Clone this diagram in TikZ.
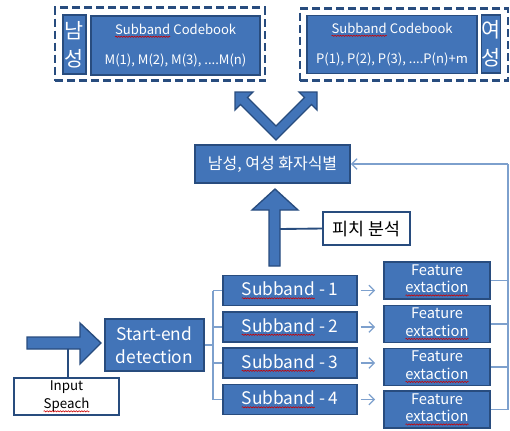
\documentclass[tikz,border=0pt]{standalone}
\usepackage{fontspec}
\setmainfont{Noto Sans CJK KR}
\usetikzlibrary{arrows.meta,decorations.pathmorphing}
\definecolor{bfill}{RGB}{66,116,184}
\definecolor{bdraw}{RGB}{40,76,126}
\definecolor{lline}{RGB}{125,160,205}
\newcommand\spl[1]{\tikz[baseline=(sw.base)]{\node[draw=none,fill=none,inner sep=0pt,outer sep=0pt,minimum size=0pt](sw){#1};\draw[draw=red!80!black,line width=0.45pt,solid,decorate,decoration={snake,amplitude=0.45pt,segment length=2pt}]([yshift=-2pt]sw.base west)--([yshift=-2pt]sw.base east);}}
\tikzset{
  bbox/.style={draw=bdraw,fill=bfill,line width=1.4pt,text=white,inner sep=0pt,align=center},
  wbox/.style={draw=bdraw,fill=white,line width=1.4pt,text=black,inner sep=0pt,align=center},
  dbox/.style={draw=bdraw,line width=2.2pt,dash pattern=on 6pt off 3pt,inner sep=0pt},
  bigarrow/.style={draw=bdraw,fill=bfill,line width=1pt,line join=miter},
  thin/.style={draw=lline,line width=0.9pt},
  thinarrow/.style={thin,-{Straight Barb[length=4pt,width=8pt,line width=0.9pt]}},
}
\begin{document}
\begin{tikzpicture}[x=0.75pt,y=-0.75pt]
\useasboundingbox (0,0) rectangle (510,430);
% top groups
\node[dbox,minimum width=210*0.75pt,minimum height=73*0.75pt] (dashL) at (160,44) {};
\node[bbox,minimum width=23*0.75pt,minimum height=59*0.75pt,font=\fontsize{15.5}{21}\selectfont] (manL) at (74.5,44.5) {남\\성};
\node[bbox,minimum width=169*0.75pt,minimum height=59*0.75pt,font=\fontsize{9.8}{23}\selectfont] (cbL) at (175.5,45.5) {\spl{Subband} Codebook\\M(1), M(2), M(3), ....M(n)};
\node[dbox,minimum width=208*0.75pt,minimum height=72*0.75pt] (dashR) at (404,44.5) {};
\node[bbox,minimum width=170*0.75pt,minimum height=58*0.75pt,font=\fontsize{9.8}{23}\selectfont] (cbR) at (392,44.5) {\spl{Subband} Codebook\\P(1), P(2), P(3), ....P(n)+m};
\node[bbox,minimum width=18*0.75pt,minimum height=58*0.75pt,font=\fontsize{15.5}{21}\selectfont] (womR) at (491,44) {여\\성};
% V double arrow
\draw[bigarrow] (235,92) -- (253,92) -- (247.5,97.5) -- (276,126) -- (304.5,97.5) -- (299,92) -- (317,92) -- (317,110) -- (311.5,104.5) -- (276,140) -- (240.5,104.5) -- (235,110) -- cycle;
% identification box
\node[bbox,minimum width=155*0.75pt,minimum height=38*0.75pt,font=\fontsize{12}{14}\selectfont] (id) at (272.5,164) {남성, 여성 화자식별};
% pitch
\node[wbox,minimum width=87*0.75pt,minimum height=33*0.75pt,font=\fontsize{13}{15}\selectfont] (pitch) at (366.5,228.5) {피치 분석};
% big up arrow
\draw[bigarrow] (269,266) -- (269,210) -- (252,210) -- (275,189) -- (298,210) -- (280,210) -- (280,266) -- cycle;
\coordinate (pj) at (280,229);
\draw[draw=bdraw,line width=1.4pt] (pj) -- (pitch.west);
% subbands
\foreach \i/\y in {1/290.5,2/327,3/363,4/399.5}{
  \node[bbox,minimum width=134*0.75pt,minimum height=30*0.75pt,font=\fontsize{13}{15}\selectfont] (sub\i) at (290,\y) {\spl{Subband} - \i};
}
\foreach \i/\y in {1/280.5,2/324,3/367,4/409.5}{
  \node[bbox,minimum width=106*0.75pt,minimum height=37*0.75pt,font=\fontsize{11}{13}\selectfont] (feat\i) at (437,\y) {Feature\\\spl{extaction}};
}
% start-end
\node[bbox,minimum width=99*0.75pt,minimum height=52*0.75pt,font=\fontsize{13}{17.5}\selectfont] (se) at (154.5,345) {Start-end\\detection};
% input speach
\node[wbox,minimum width=105*0.75pt,minimum height=37*0.75pt,font=\fontsize{10}{13.5}\selectfont] (inp) at (66.5,396.5) {Input\\\spl{Speach}};
% big right arrow
\draw[bigarrow] (27,337) -- (80,337) -- (80,323) -- (101,343) -- (80,364) -- (80,349) -- (27,349) -- cycle;
\coordinate (ij) at (68,349);
\draw[draw=bdraw,line width=1.4pt] (ij) -- (ij |- inp.north);
% tree
\coordinate (tr) at (213,345);
\draw[thin] (se.east) -- (tr);
\draw[thin] (tr |- sub1.west) -- (tr |- sub4.west);
\foreach \i in {1,2,3,4}{
  \draw[thin] (tr |- sub\i.west) -- (sub\i.west);
  \draw[thinarrow,shorten <=2pt,shorten >=6pt] (sub\i.east) -- (sub\i.east -| feat\i.west);
}
% feedback
\coordinate (rx) at (508,164);
\foreach \i in {1,2,3,4}{
  \draw[thin] (feat\i.east) -- (feat\i.east -| rx);
}
\draw[thin] (rx) -- (rx |- feat4.east);
\draw[thinarrow] (rx) -- (id.east);
\end{tikzpicture}
\end{document}
